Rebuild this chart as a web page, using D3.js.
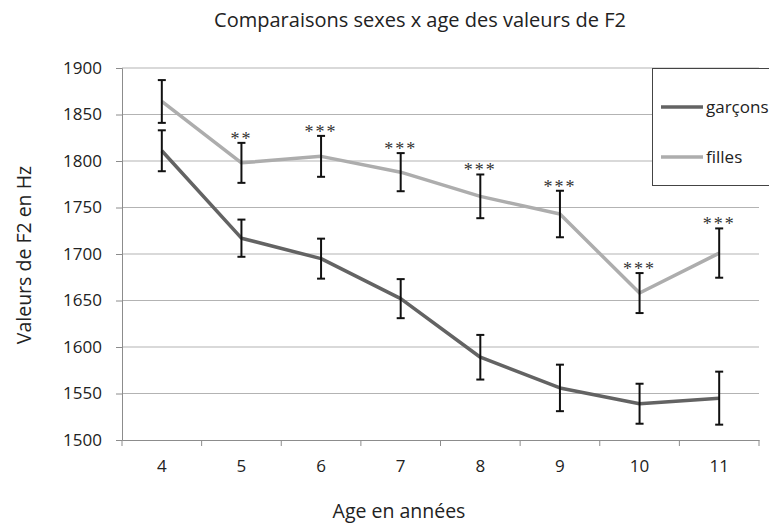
<!DOCTYPE html>
<html><head><meta charset="utf-8">
<script src="https://cdn.jsdelivr.net/npm/d3@7"></script>
<style>body{margin:0;background:#fff;} text{font-family:"Open Sans",sans-serif;}</style>
</head><body>
<svg id="c" width="769" height="524"></svg>
<script>
const ages = ["4","5","6","7","8","9","10","11"];
const garcons = [1811, 1717, 1695, 1652, 1589, 1556, 1539, 1545];
const garconsErr = [22, 20, 21.5, 21, 24, 25, 21.5, 28.5];
const filles = [1864, 1798, 1805, 1788, 1762, 1743, 1658, 1701];
const fillesErr = [23, 21.5, 22, 20.5, 23.5, 25, 21.5, 26.5];
const signif = ["", "**", "***", "***", "***", "***", "***", "***"];
const yTicks = [1500, 1550, 1600, 1650, 1700, 1750, 1800, 1850, 1900];
const seriesNames = ["garçons", "filles"];
const colors = ["#636363", "#adadad"];

const svg = d3.select("#c");
const x = d3.scaleBand().domain(ages).range([122, 759]);
const y = d3.scaleLinear().domain([1500, 1900]).range([440, 68]);

// gridlines
svg.append("g").selectAll("line").data(yTicks.filter(d => d > 1500)).join("line")
  .attr("x1", 122).attr("x2", 759).attr("y1", d => y(d)).attr("y2", d => y(d))
  .attr("stroke", "#b3b3b3").attr("stroke-width", 1);

// y axis
const ya = svg.append("g").attr("transform", "translate(122,0)")
  .call(d3.axisLeft(y).tickValues(yTicks).tickSize(6).tickPadding(14).tickFormat(d3.format("d")));
ya.select(".domain").attr("stroke", "#8c8c8c");
ya.selectAll(".tick line").attr("stroke", "#8c8c8c");
ya.selectAll("text").attr("font-size", 17).attr("fill", "#222").style("font-family", "'Open Sans',sans-serif");

// x axis
const xa = svg.append("g").attr("transform", "translate(0,440)")
  .call(d3.axisBottom(x).tickSize(0).tickPadding(20));
xa.select(".domain").attr("stroke", "#8c8c8c");
xa.selectAll("text").attr("font-size", 17).attr("fill", "#222").style("font-family", "'Open Sans',sans-serif");
svg.append("g").selectAll("line").data(ages.concat(["end"])).join("line")
  .attr("x1", (d, i) => 122 + i * x.bandwidth()).attr("x2", (d, i) => 122 + i * x.bandwidth())
  .attr("y1", 440).attr("y2", 446).attr("stroke", "#8c8c8c");

const cx = d => x(d) + x.bandwidth() / 2;
const line = d3.line().x((d, i) => cx(ages[i])).y(d => y(d));

const data = [{v: garcons, e: garconsErr}, {v: filles, e: fillesErr}];
data.forEach((s, si) => {
  svg.append("path").datum(s.v).attr("d", line).attr("fill", "none")
    .attr("stroke", colors[si]).attr("stroke-width", 3.5).attr("stroke-linejoin", "round");
});
data.forEach((s, si) => {
  const g = svg.append("g");
  s.v.forEach((v, i) => {
    const xc = cx(ages[i]);
    const t = y(v + s.e[i]), b = y(v - s.e[i]);
    g.append("line").attr("x1", xc).attr("x2", xc).attr("y1", t).attr("y2", b).attr("stroke", "#111").attr("stroke-width", 2);
    g.append("line").attr("x1", xc - 4).attr("x2", xc + 4).attr("y1", t).attr("y2", t).attr("stroke", "#111").attr("stroke-width", 2);
    g.append("line").attr("x1", xc - 4).attr("x2", xc + 4).attr("y1", b).attr("y2", b).attr("stroke", "#111").attr("stroke-width", 2);
  });
});

// significance stars
svg.append("g").selectAll("text").data(signif).join("text")
  .attr("x", (d, i) => cx(ages[i]))
  .attr("y", (d, i) => y(filles[i] + fillesErr[i]) + 2)
  .attr("text-anchor", "middle").attr("font-size", 18).attr("fill", "#333")
  .style("font-family", "'Liberation Serif',serif").style("letter-spacing", "2px")
  .text(d => d);

// legend
const lg = svg.append("g");
lg.append("rect").attr("x", 652.5).attr("y", 68.5).attr("width", 130).attr("height", 117)
  .attr("fill", "#fff").attr("stroke", "#444");
seriesNames.forEach((n, i) => {
  const ly = 107 + i * 50;
  lg.append("line").attr("x1", 661).attr("x2", 703).attr("y1", ly).attr("y2", ly)
    .attr("stroke", colors[i]).attr("stroke-width", 3.5);
  lg.append("text").attr("x", 706).attr("y", ly + 6).attr("font-size", 17).attr("fill", "#222").text(n);
});

// titles
svg.append("text").attr("x", 420).attr("y", 27).attr("text-anchor", "middle")
  .attr("font-size", 20).attr("fill", "#222").text("Comparaisons sexes x age des valeurs de F2");
svg.append("text").attr("x", 399).attr("y", 518).attr("text-anchor", "middle")
  .attr("font-size", 19.5).attr("fill", "#222").text("Age en années");
svg.append("text").attr("transform", "translate(31,255) rotate(-90)").attr("text-anchor", "middle")
  .attr("font-size", 19.5).attr("fill", "#222").text("Valeurs de F2 en Hz");
</script>
</body></html>
